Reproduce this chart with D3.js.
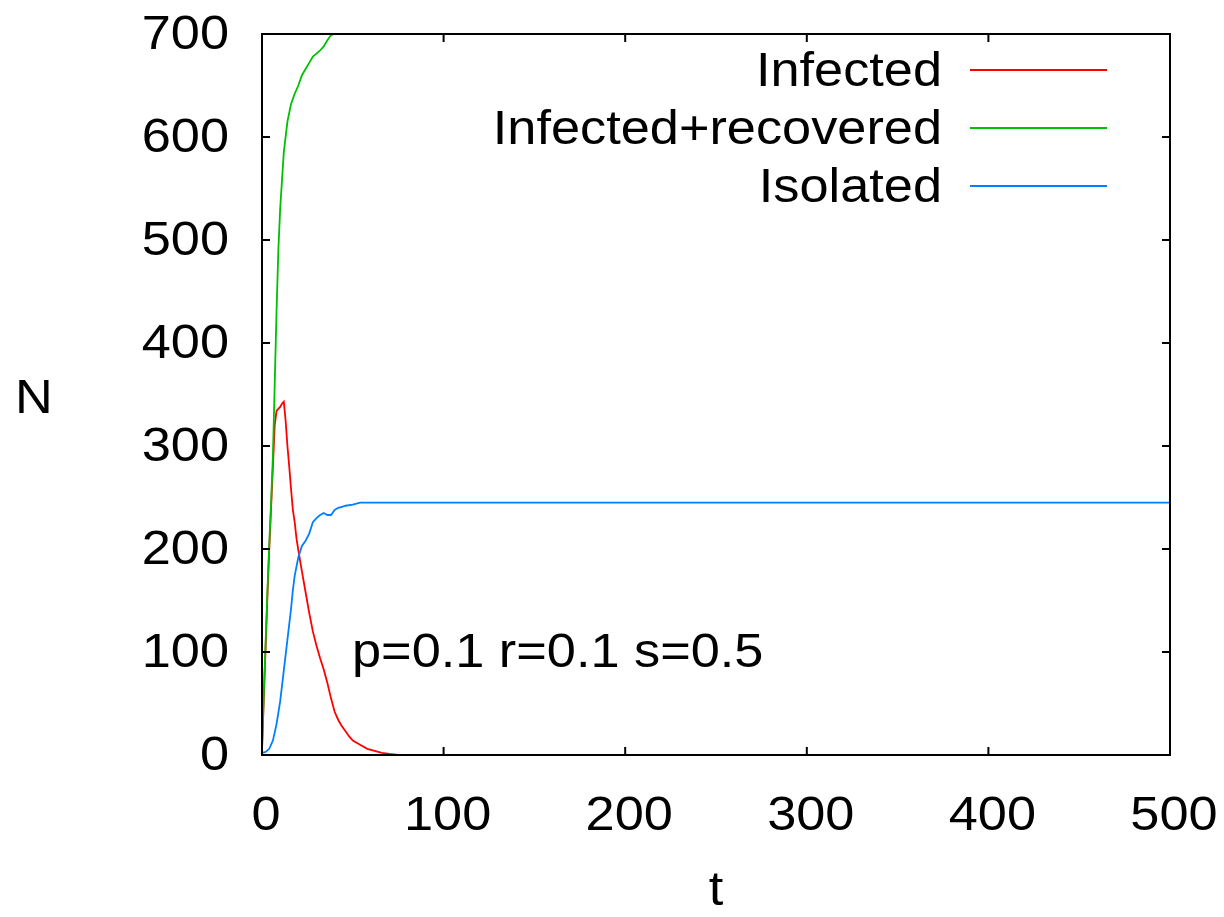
<!DOCTYPE html>
<html>
<head>
<meta charset="utf-8">
<script src="https://cdn.jsdelivr.net/npm/d3@7"></script>
<style>
  body { margin: 0; background: #fff; }
  text { font-family: "Liberation Sans", Arial, sans-serif; fill: #000; }
</style>
</head>
<body>
<div id="chart"></div>
<script>
// time steps and counts
const infT = [0, 1, 2, 3, 4, 5, 6, 7, 8, 9, 10, 11, 12, 13, 14, 15, 16, 17, 18, 19, 20, 22, 24, 26, 28, 30, 32, 34, 36, 38, 40, 42, 44, 46, 48, 50, 54, 58, 62, 66, 70, 75, 500];
const infected = [5, 55, 105, 155, 200, 240, 280, 320, 334, 336, 338, 341, 343, 325, 300, 280, 258, 238, 226, 210, 199, 178, 158, 138, 120, 106, 94, 83, 70, 55, 42, 34, 28, 23, 18, 14, 10, 6, 4, 2, 1, 0, 0];

const totT = [0, 1, 2, 3, 4, 5, 6, 7, 8, 9, 10, 12, 14, 16, 18, 20, 22, 24, 26, 28, 30, 32, 34, 36, 38, 40, 500];
const infRec = [5, 60, 110, 160, 205, 245, 290, 360, 430, 490, 530, 585, 615, 632, 642, 650, 660, 666, 672, 678, 681, 684, 688, 694, 699, 700, 700];

const isoT = [0, 2, 4, 6, 8, 10, 12, 14, 16, 17, 18, 20, 22, 24, 26, 28, 30, 32, 34, 36, 38, 40, 42, 44, 46, 50, 54, 500];
const isolated = [2, 3, 6, 14, 30, 52, 82, 112, 142, 160, 174, 192, 203, 208, 215, 226, 230, 233, 235, 233, 233, 238, 240, 241, 242, 243, 245, 245];

const xTicks = [0, 100, 200, 300, 400, 500];
const yTicks = [0, 100, 200, 300, 400, 500, 600, 700];
const seriesNames = ["Infected", "Infected+recovered", "Isolated"];
const seriesColors = ["#ff0000", "#00c000", "#0080ff"];

const W = 1224, H = 917;
const mLeft = 262, mRight = 1170, mTop = 34, mBottom = 755;

const svg = d3.select("#chart").append("svg")
    .attr("width", W)
    .attr("height", H);

const x = d3.scaleLinear().domain([0, 500]).range([mLeft, mRight]);
const y = d3.scaleLinear().domain([0, 700]).range([mBottom, mTop]);

const line = d3.line()
    .x(d => x(d[0]))
    .y(d => y(d[1]));

const series = [
    d3.zip(infT, infected),
    d3.zip(totT, infRec),
    d3.zip(isoT, isolated)
];

// curves
series.forEach((s, i) => {
    svg.append("path")
        .datum(s)
        .attr("fill", "none")
        .attr("stroke", seriesColors[i])
        .attr("stroke-width", 1.8)
        .attr("d", line);
});

// frame
svg.append("rect")
    .attr("x", mLeft).attr("y", mTop)
    .attr("width", mRight - mLeft).attr("height", mBottom - mTop)
    .attr("fill", "none")
    .attr("stroke", "#000")
    .attr("stroke-width", 2);

// ticks, drawn inward on all four sides
const TL = 8;
const g = svg.append("g").attr("stroke", "#000").attr("stroke-width", 2);
yTicks.forEach(v => {
    g.append("line").attr("x1", mLeft).attr("x2", mLeft + TL).attr("y1", y(v)).attr("y2", y(v));
    g.append("line").attr("x1", mRight).attr("x2", mRight - TL).attr("y1", y(v)).attr("y2", y(v));
});
xTicks.forEach(v => {
    g.append("line").attr("x1", x(v)).attr("x2", x(v)).attr("y1", mBottom).attr("y2", mBottom - TL);
    g.append("line").attr("x1", x(v)).attr("x2", x(v)).attr("y1", mTop).attr("y2", mTop + TL);
});

const FS = 48;
const SX = 1.09; // the glyphs in the original are a bit wider than they are tall

// text stretched horizontally around its anchor point
function label(tx, ty, str, anchor) {
    return svg.append("text")
        .attr("transform", `translate(${tx},${ty}) scale(${SX},1)`)
        .attr("text-anchor", anchor || "start")
        .style("font-size", FS + "px")
        .text(str);
}

yTicks.forEach(v => label(mLeft - 33, y(v) + 15, v, "end"));
xTicks.forEach(v => label(x(v) + 4, 830, v, "middle"));

label(34, 413, "N", "middle");
label(x(250), 905, "t", "middle");
label(352, 667, "p=0.1 r=0.1 s=0.5");

// legend
seriesNames.forEach((name, i) => {
    const ly = 70 + i * 58;
    label(942, ly + 16, name, "end");
    svg.append("line")
        .attr("x1", 970).attr("x2", 1107)
        .attr("y1", ly).attr("y2", ly)
        .attr("stroke", seriesColors[i])
        .attr("stroke-width", 1.8);
});
</script>
</body>
</html>
